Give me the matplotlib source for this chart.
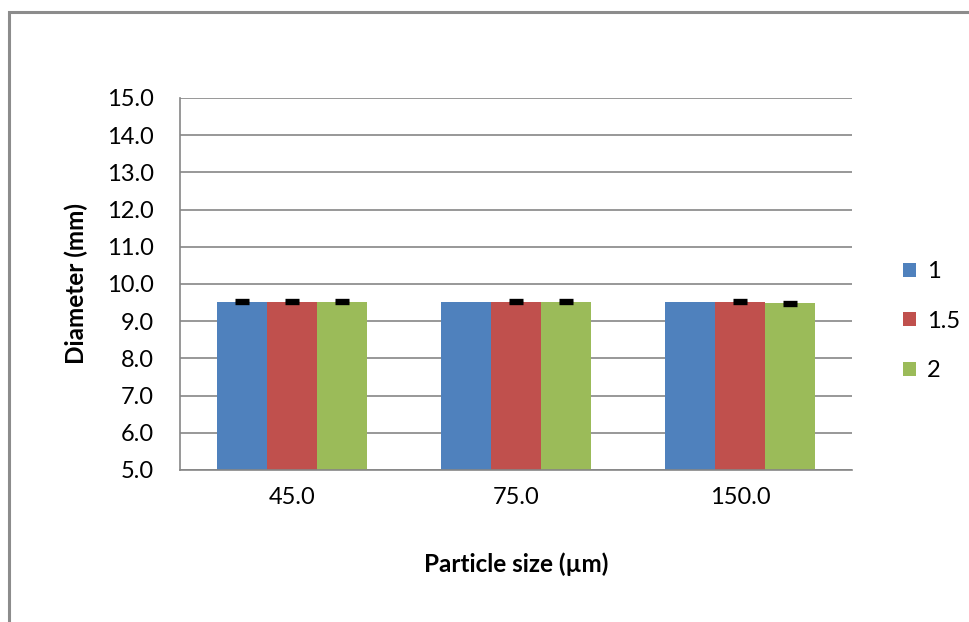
import matplotlib
matplotlib.use("Agg")
import matplotlib.pyplot as plt
from matplotlib.patches import Rectangle
import numpy as np

categories = ["45.0", "75.0", "150.0"]
series_names = ["1", "1.5", "2"]
values_1 = [9.52, 9.52, 9.52]
values_15 = [9.52, 9.52, 9.52]
values_2 = [9.52, 9.52, 9.48]
err_1 = [0.04, 0.0, 0.0]
err_15 = [0.04, 0.04, 0.04]
err_2 = [0.04, 0.04, 0.04]
colors = ["#4F81BD", "#C0504D", "#9BBB59"]
yticks = [5.0, 6.0, 7.0, 8.0, 9.0, 10.0, 11.0, 12.0, 13.0, 14.0, 15.0]

plt.rcParams['font.family'] = ['Lato', 'DejaVu Sans']

W, H = 970, 622
fig = plt.figure(figsize=(W / 100, H / 100), dpi=100)
ax = fig.add_axes([180 / W, 1 - 470 / H, 672 / W, 372 / H])

# outer chart-area border (clipped by figure edges)
fig.patches.append(Rectangle((9.5 / W, -0.1), 1.2, 1 - 11.5 / H + 0.1,
                             transform=fig.transFigure, fill=False,
                             edgecolor="#8c8c8c", linewidth=2.2, zorder=0))

x = np.arange(len(categories))
bw = 50 / 224
all_vals = [values_1, values_15, values_2]
all_errs = [err_1, err_15, err_2]
for i, (vals, errs, name, c) in enumerate(zip(all_vals, all_errs, series_names, colors)):
    pos = x + (i - 1) * bw
    ax.bar(pos, [v - 5.0 for v in vals], bw, bottom=5.0, color=c, label=name, zorder=2)
    for p, v, e in zip(pos, vals, errs):
        if e > 0:
            ax.errorbar([p], [v], yerr=[e], fmt="none", ecolor="black",
                        elinewidth=2, capsize=5, capthick=2.4, zorder=3)

ax.set_xlim(-0.5, len(categories) - 0.5)
ax.set_ylim(5.0, 15.0)
ax.set_yticks(yticks)
ax.set_yticklabels([f"{t:.1f}" for t in yticks])
ax.set_xticks(x)
ax.set_xticklabels(categories)
ax.tick_params(axis="both", length=0, labelsize=17, colors="black")
ax.tick_params(axis="y", pad=19)
ax.tick_params(axis="x", pad=12)
ax.yaxis.grid(True, color="#868686", linewidth=1.2, zorder=0)
ax.set_axisbelow(True)
for s in ["top", "right"]:
    ax.spines[s].set_visible(False)
for s in ["left", "bottom"]:
    ax.spines[s].set_color("#868686")
    ax.spines[s].set_linewidth(1.2)

ax.set_ylabel("Diameter (mm)", fontsize=17.5, fontweight="bold", labelpad=13)
ax.set_xlabel("Particle size (µm)", fontsize=17.5, fontweight="bold", labelpad=32)

leg = ax.legend(loc="center left", bbox_to_anchor=(1.045, 0.40), frameon=False,
                fontsize=17, handlelength=0.55, handleheight=0.55, labelspacing=1.2,
                handletextpad=0.45)

fig.savefig("out.png", dpi=100)
